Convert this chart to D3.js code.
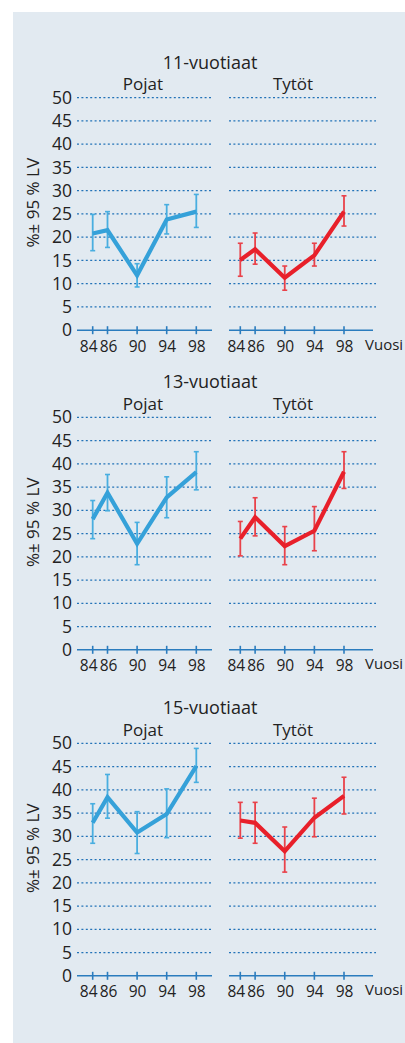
<!DOCTYPE html>
<html lang="fi">
<head>
<meta charset="utf-8">
<title>Vuosi</title>
<script src="https://cdn.jsdelivr.net/npm/d3@7"></script>
<style>
  body { margin: 0; background: #fff; }
  svg { display: block; }
  text { font-family: "Open Sans", "Noto Sans", sans-serif; fill: #222; }
</style>
</head>
<body>
<script>
// data
var years = [84, 86, 90, 94, 98];
var yTicks = [0, 5, 10, 15, 20, 25, 30, 35, 40, 45, 50];
var ageGroups = ["11-vuotiaat", "13-vuotiaat", "15-vuotiaat"];
var sexes = ["Pojat", "Tytöt"];

// boys (Pojat): value, lower, upper
var boys11 = [20.8, 21.5, 11.8, 23.8, 25.5];
var boys11Low = [17.1, 17.8, 9.3, 20.7, 22.1];
var boys11High = [24.9, 25.5, 14.3, 27.0, 29.2];
var boys13 = [28.1, 33.8, 22.8, 32.8, 38.2];
var boys13Low = [23.9, 29.9, 18.3, 28.4, 34.4];
var boys13High = [32.1, 37.7, 27.4, 37.2, 42.6];
var boys15 = [32.9, 38.4, 30.8, 34.8, 45.1];
var boys15Low = [28.5, 33.9, 26.3, 29.7, 41.6];
var boys15High = [37.0, 43.3, 35.3, 40.2, 48.9];

// girls (Tytöt)
var girls11 = [15.1, 17.4, 11.3, 16.1, 25.5];
var girls11Low = [11.6, 14.2, 8.6, 13.8, 22.4];
var girls11High = [18.7, 20.9, 13.8, 18.7, 28.9];
var girls13 = [23.9, 28.5, 22.3, 25.6, 38.3];
var girls13Low = [20.2, 24.5, 18.3, 21.3, 34.7];
var girls13High = [27.6, 32.7, 26.5, 30.8, 42.6];
var girls15 = [33.4, 32.9, 26.8, 34.0, 38.7];
var girls15Low = [29.6, 28.5, 22.3, 29.9, 34.8];
var girls15High = [37.3, 37.3, 32.0, 38.2, 42.7];

var series = [
  [[boys11, boys11Low, boys11High], [girls11, girls11Low, girls11High]],
  [[boys13, boys13Low, boys13High], [girls13, girls13Low, girls13High]],
  [[boys15, boys15Low, boys15High], [girls15, girls15Low, girls15High]]
];

var w = 405, h = 1043;
var gridTops = [97.7, 417.3, 743.3];
var plotH = 232.5;

var sides = [
  { xr: [92.7, 196.3], grid: [77, 212], axis: [77, 212], line: "#35a1d9", bar: "#49aee0", labelX: 143 },
  { xr: [240.3, 344], grid: [229, 376], axis: [229, 373], line: "#e8202a", bar: "#e9424a", labelX: 293 }
];
var gridColor = "#2373b8";
var axisColor = "#2b7cbe";

var svg = d3.select("body").append("svg").attr("width", w).attr("height", h);

svg.append("rect").attr("x", 13).attr("y", 12).attr("width", w - 13).attr("height", h - 12)
  .attr("fill", "#e2eaf1");

ageGroups.forEach(function(title, p) {
  var top = gridTops[p];
  var y = d3.scaleLinear().domain([0, 50]).range([top + plotH, top]);
  var g = svg.append("g");

  g.append("text").attr("x", 210).attr("y", top - 29).attr("text-anchor", "middle")
    .style("font-size", "18px").text(title);

  // y axis labels (left only)
  var yAxis = d3.axisLeft(y).tickValues(yTicks).tickSize(0).tickPadding(0);
  var ya = g.append("g").attr("transform", "translate(72,0)").call(yAxis);
  ya.select(".domain").remove();
  ya.selectAll("text").style("font-size", "17.5px").attr("fill", "#222")
    .style("font-family", "'Open Sans', 'Noto Sans', sans-serif");

  g.append("text")
    .attr("transform", "translate(39," + (top + 105) + ") rotate(-90)")
    .attr("text-anchor", "middle").style("font-size", "17px").text("%\u00b1 95 % LV");

  sides.forEach(function(s, k) {
    var x = d3.scaleLinear().domain([84, 98]).range(s.xr);
    var vals = series[p][k][0], lo = series[p][k][1], hi = series[p][k][2];

    g.append("text").attr("x", s.labelX).attr("y", top - 7.7).attr("text-anchor", "middle")
      .style("font-size", "17px").text(sexes[k]);

    // dotted gridlines
    g.selectAll(null).data(yTicks.slice(1)).enter().append("line")
      .attr("x1", s.grid[0]).attr("x2", s.grid[1])
      .attr("y1", function(d) { return y(d); }).attr("y2", function(d) { return y(d); })
      .attr("stroke", gridColor).attr("stroke-width", 1.2).attr("stroke-dasharray", "2,2.4");

    // x axis
    var xAxis = d3.axisBottom(x).tickValues(years).tickSize(0).tickPadding(0)
      .tickFormat(d3.format("d"));
    var xa = g.append("g").attr("transform", "translate(0," + y(0) + ")").call(xAxis);
    xa.select(".domain").remove();
    xa.selectAll("text").attr("y", 21.5).attr("dy", null).style("font-size", "15.5px")
      .attr("x", function(d) { return d === 84 ? -4.5 : (d === 86 ? 0.5 : 0); })
      .attr("fill", "#222").style("font-family", "'Open Sans', 'Noto Sans', sans-serif");
    g.append("line").attr("x1", s.axis[0]).attr("x2", s.axis[1])
      .attr("y1", y(0)).attr("y2", y(0)).attr("stroke", axisColor).attr("stroke-width", 1.6);
    g.selectAll(null).data(years).enter().append("line")
      .attr("x1", function(d) { return x(d); }).attr("x2", function(d) { return x(d); })
      .attr("y1", y(0) - 4).attr("y2", y(0) + 4)
      .attr("stroke", axisColor).attr("stroke-width", 1.6);

    if (k === 1) {
      g.append("text").attr("x", 365).attr("y", y(0) + 19.5)
        .style("font-size", "15px").text("Vuosi");
    }

    // error bars
    var eb = g.selectAll(null).data(years).enter().append("g");
    eb.append("line")
      .attr("x1", function(d) { return x(d); }).attr("x2", function(d) { return x(d); })
      .attr("y1", function(d, i) { return y(lo[i]); }).attr("y2", function(d, i) { return y(hi[i]); })
      .attr("stroke", s.bar).attr("stroke-width", 1.8);
    [lo, hi].forEach(function(arr) {
      eb.append("line")
        .attr("x1", function(d) { return x(d) - 2.5; }).attr("x2", function(d) { return x(d) + 2.5; })
        .attr("y1", function(d, i) { return y(arr[i]); }).attr("y2", function(d, i) { return y(arr[i]); })
        .attr("stroke", s.bar).attr("stroke-width", 1.6);
    });

    var line = d3.line().x(function(d) { return x(d); }).y(function(d, i) { return y(vals[i]); });
    g.append("path").datum(years).attr("d", line)
      .attr("fill", "none").attr("stroke", s.line).attr("stroke-width", 4.2)
      .attr("stroke-linejoin", "miter");
  });
});
</script>
</body>
</html>
